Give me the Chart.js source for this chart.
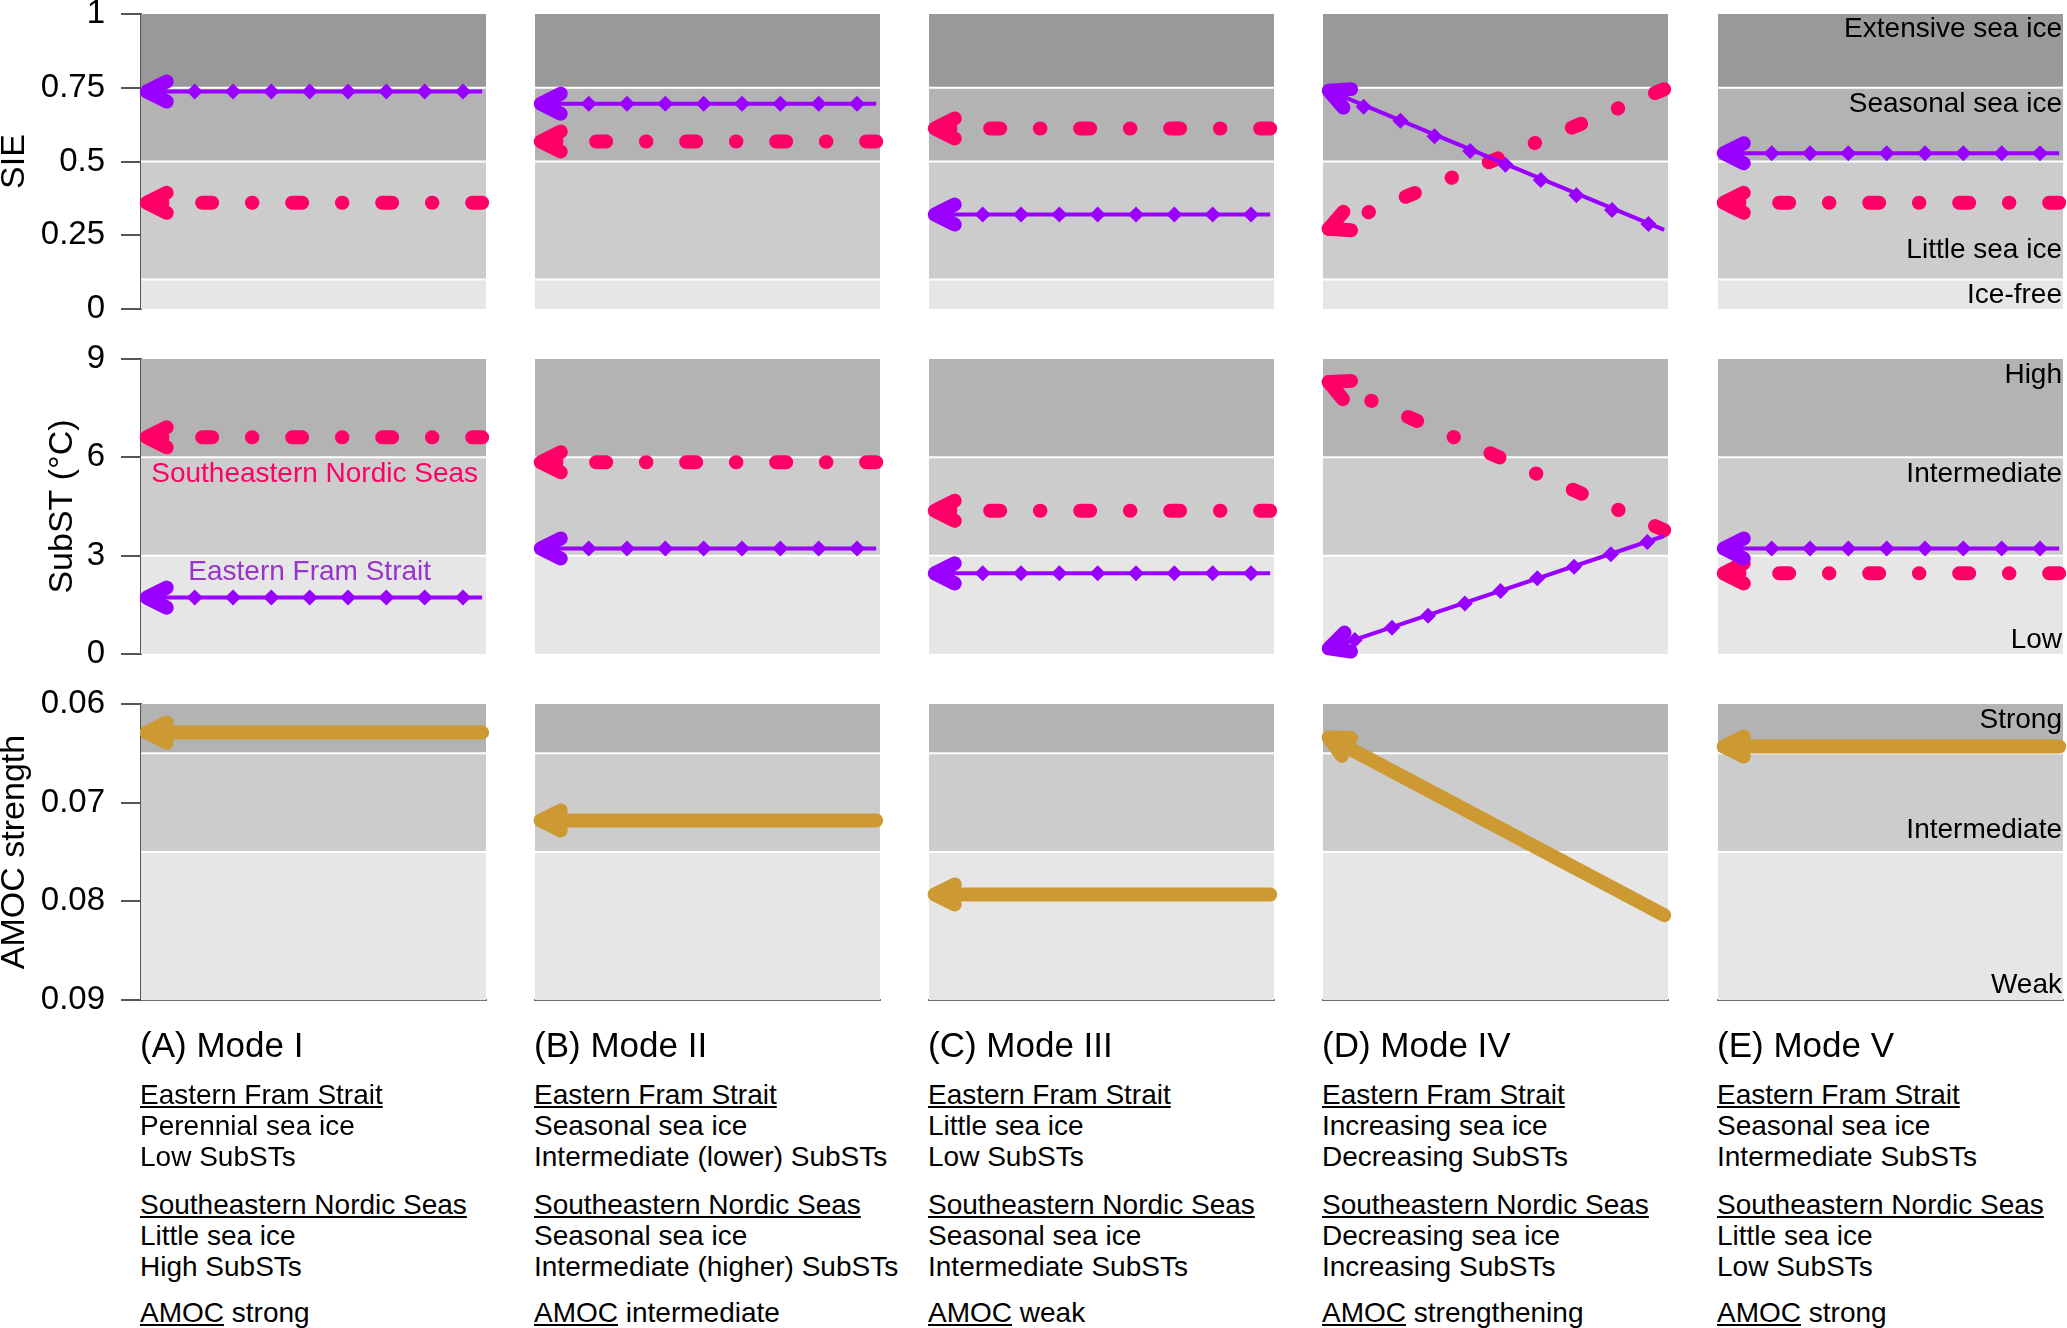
<!DOCTYPE html>
<html><head><meta charset="utf-8">
<script src="https://cdn.jsdelivr.net/npm/chart.js@4/dist/chart.umd.min.js"></script>
<style>
html,body{margin:0;padding:0;background:#fff;}
body{width:2067px;height:1328px;position:relative;overflow:hidden;font-family:'Liberation Sans',Arial,sans-serif;}
canvas{position:absolute;}
.t{position:absolute;white-space:nowrap;color:#000;}
.u{text-decoration:underline;text-decoration-thickness:2px;text-underline-offset:2px;}
</style></head><body>
<script>
// ================= DATA =================
const modeTitles = ['(A) Mode I', '(B) Mode II', '(C) Mode III', '(D) Mode IV', '(E) Mode V'];

// x extent of each panel and of the arrows (arrows are drawn from the right end to the tip)
const xMin = 0, xMax = 9;
const arrowRightX = 8.9;
const arrowTipX = 0.15;

// --- SIE row ---
const sieTicks = [0, 0.25, 0.5, 0.75, 1];
const sieTickLabels = ['0', '0.25', '0.5', '0.75', '1'];
const sieBandEdges = [0, 0.1, 0.5, 0.75, 1];
const sieBandNames = ['Ice-free', 'Little sea ice', 'Seasonal sea ice', 'Extensive sea ice'];
const sieBandLabelY = [0.019, 0.172, 0.669, 0.921];
const sieFramRight = [0.737, 0.696, 0.320, 0.268, 0.528];
const sieFramTip   = [0.737, 0.696, 0.320, 0.740, 0.528];
const sieNordicRight = [0.360, 0.568, 0.612, 0.745, 0.360];
const sieNordicTip   = [0.360, 0.568, 0.612, 0.272, 0.360];
const sieFramMarkX = [
  [1.4, 2.4, 3.4, 4.4, 5.4, 6.4, 7.4, 8.4],
  [1.4, 2.4, 3.4, 4.4, 5.4, 6.4, 7.4, 8.4],
  [1.4, 2.4, 3.4, 4.4, 5.4, 6.4, 7.4, 8.4],
  [1.06, 2.02, 2.91, 3.84, 4.76, 5.68, 6.61, 7.54, 8.49],
  [1.4, 2.4, 3.4, 4.4, 5.4, 6.4, 7.4, 8.4]
];
const sieFramMarkY = [
  [0.737, 0.737, 0.737, 0.737, 0.737, 0.737, 0.737, 0.737],
  [0.696, 0.696, 0.696, 0.696, 0.696, 0.696, 0.696, 0.696],
  [0.320, 0.320, 0.320, 0.320, 0.320, 0.320, 0.320, 0.320],
  [0.686, 0.638, 0.586, 0.536, 0.489, 0.437, 0.386, 0.336, 0.288],
  [0.528, 0.528, 0.528, 0.528, 0.528, 0.528, 0.528, 0.528]
];

// --- SubST row ---
const subTicks = [0, 3, 6, 9];
const subTickLabels = ['0', '3', '6', '9'];
const subBandEdges = [0, 3, 6, 9];
const subBandNames = ['Low', 'Intermediate', 'High'];
const subBandLabelY = [0.17, 5.26, 8.26];
const subFramRight = [1.72, 3.22, 2.46, 3.60, 3.22];
const subFramTip   = [1.72, 3.22, 2.46, 0.17, 3.22];
const subNordicRight = [6.61, 5.85, 4.37, 3.78, 2.46];
const subNordicTip   = [6.61, 5.85, 4.37, 8.30, 2.46];
const subFramMarkX = [
  [1.4, 2.4, 3.4, 4.4, 5.4, 6.4, 7.4, 8.4],
  [1.4, 2.4, 3.4, 4.4, 5.4, 6.4, 7.4, 8.4],
  [1.4, 2.4, 3.4, 4.4, 5.4, 6.4, 7.4, 8.4],
  [0.83, 1.80, 2.74, 3.70, 4.63, 5.59, 6.55, 7.51, 8.46],
  [1.4, 2.4, 3.4, 4.4, 5.4, 6.4, 7.4, 8.4]
];
const subFramMarkY = [
  [1.72, 1.72, 1.72, 1.72, 1.72, 1.72, 1.72, 1.72],
  [3.22, 3.22, 3.22, 3.22, 3.22, 3.22, 3.22, 3.22],
  [2.46, 2.46, 2.46, 2.46, 2.46, 2.46, 2.46, 2.46],
  [0.43, 0.80, 1.17, 1.54, 1.92, 2.31, 2.66, 3.04, 3.42],
  [3.22, 3.22, 3.22, 3.22, 3.22, 3.22, 3.22, 3.22]
];
const regionNames = ['Southeastern Nordic Seas', 'Eastern Fram Strait'];
const regionLabelX = [4.53, 4.40];
const regionLabelY = [5.26, 2.26];

// --- AMOC row ---
const amocTicks = [0.06, 0.07, 0.08, 0.09];
const amocTickLabels = ['0.06', '0.07', '0.08', '0.09'];
const amocBandEdges = [0.06, 0.065, 0.075, 0.09];
const amocBandNames = ['Strong', 'Intermediate', 'Weak'];
const amocBandLabelY = [0.06246, 0.07361, 0.08932];
const amocRight = [0.0629, 0.0718, 0.0793, 0.0814, 0.0643];
const amocTip   = [0.0629, 0.0718, 0.0793, 0.0634, 0.0643];

// --- descriptions ---
const framIce = ['Perennial sea ice', 'Seasonal sea ice', 'Little sea ice', 'Increasing sea ice', 'Seasonal sea ice'];
const framSubST = ['Low SubSTs', 'Intermediate (lower) SubSTs', 'Low SubSTs', 'Decreasing SubSTs', 'Intermediate SubSTs'];
const nordicIce = ['Little sea ice', 'Seasonal sea ice', 'Seasonal sea ice', 'Decreasing sea ice', 'Little sea ice'];
const nordicSubST = ['High SubSTs', 'Intermediate (higher) SubSTs', 'Intermediate SubSTs', 'Increasing SubSTs', 'Low SubSTs'];
const amocState = ['strong', 'intermediate', 'weak', 'strengthening', 'strong'];

// ================= STYLE / LAYOUT =================
const FONT = "'Liberation Sans', Arial, sans-serif";
const PURPLE = '#9900ff', PINK = '#ff0066', GOLD = '#cc9933';
const PURPLE_TEXT = '#9933cc';
const colLeft = [141, 535, 929, 1323, 1718];
const panelW = 345;
const rowTop = [14, 359, 704];
const rowH = [295, 295, 296];
const PAD = 40;
const PADX = 24;
const axisW = 141;

const rows = [
  {ticks: sieTicks, labels: sieTickLabels, min: 0, max: 1, reverse: false, title: 'SIE', titlePad: -6,
   edges: sieBandEdges, colors: ['#e6e6e6', '#cccccc', '#b3b3b3', '#999999'], names: sieBandNames, nameY: sieBandLabelY},
  {ticks: subTicks, labels: subTickLabels, min: 0, max: 9, reverse: false, title: 'SubST (°C)', titlePad: 42,
   edges: subBandEdges, colors: ['#e6e6e6', '#cccccc', '#b3b3b3'], names: subBandNames, nameY: subBandLabelY},
  {ticks: amocTicks, labels: amocTickLabels, min: 0.06, max: 0.09, reverse: true, title: 'AMOC strength', titlePad: -6,
   edges: amocBandEdges, colors: ['#b3b3b3', '#cccccc', '#e6e6e6'], names: amocBandNames, nameY: amocBandLabelY}
];

const panelPlugin = {
  id: 'panel',
  beforeDatasetsDraw(chart, args, opts) {
    const ctx = chart.ctx, a = chart.chartArea, ys = chart.scales.y, xs = chart.scales.x;
    ctx.save();
    for (let i = 0; i < opts.colors.length; i++) {
      const p1 = ys.getPixelForValue(opts.edges[i]), p2 = ys.getPixelForValue(opts.edges[i + 1]);
      ctx.fillStyle = opts.colors[i];
      ctx.fillRect(a.left, Math.min(p1, p2), a.right - a.left, Math.abs(p2 - p1));
    }
    ctx.strokeStyle = '#ffffff';
    ctx.lineWidth = 2;
    for (let i = 1; i < opts.edges.length - 1; i++) {
      const p = ys.getPixelForValue(opts.edges[i]);
      ctx.beginPath(); ctx.moveTo(a.left, p); ctx.lineTo(a.right, p); ctx.stroke();
    }
    ctx.textBaseline = 'alphabetic';
    ctx.font = '28px ' + FONT;
    for (const t of (opts.texts || [])) {
      ctx.fillStyle = t.color;
      ctx.textAlign = t.align;
      const px = t.x === 'right' ? a.right - 1 : xs.getPixelForValue(t.x);
      ctx.fillText(t.text, px, ys.getPixelForValue(t.y));
    }
    ctx.restore();
  },
  afterDatasetDraw(chart, args) {
    const ds = chart.data.datasets[args.index];
    if (!ds.arrowHead) return;
    const pts = args.meta.data, n = pts.length;
    const P = pts[n - 1], Q = pts[n - 2];
    let dx = P.x - Q.x, dy = P.y - Q.y;
    const L = Math.hypot(dx, dy); dx /= L; dy /= L;
    const back = 20, half = 10;
    const ctx = chart.ctx;
    ctx.save();
    ctx.strokeStyle = ds.borderColor;
    ctx.lineWidth = 14;
    ctx.lineCap = 'round';
    ctx.lineJoin = 'round';
    ctx.setLineDash([]);
    ctx.beginPath();
    ctx.moveTo(P.x - dx * back - dy * half, P.y - dy * back + dx * half);
    ctx.lineTo(P.x, P.y);
    ctx.lineTo(P.x - dx * back + dy * half, P.y - dy * back - dx * half);
    ctx.stroke();
    ctx.restore();
  }
};

function pts(xArr, yArr) { return xArr.map((x, i) => ({x: x, y: yArr[i]})); }

function makePanel(r, c, datasets, texts) {
  const R = rows[r];
  const cv = document.createElement('canvas');
  const left = c === 0 ? 0 : colLeft[c] - PADX;
  const w = c === 0 ? axisW + panelW + PADX : panelW + 2 * PADX;
  const h = rowH[r] + 2 * PAD;
  cv.width = w; cv.height = h;
  cv.style.left = left + 'px';
  cv.style.top = (rowTop[r] - PAD) + 'px';
  cv.style.width = w + 'px'; cv.style.height = h + 'px';
  document.body.appendChild(cv);
  const yOpts = {
    type: 'linear', min: R.min, max: R.max, reverse: R.reverse,
    display: c === 0,
    afterBuildTicks: s => { s.ticks = R.ticks.map(v => ({value: v})); },
    ticks: {
      callback: (v, i) => R.labels[i],
      font: {family: FONT, size: 33}, color: '#000', padding: 16, autoSkip: false
    },
    grid: {display: true, drawOnChartArea: false, drawTicks: true, tickLength: 20, color: '#555', lineWidth: 2},
    border: {display: true, color: '#555', width: 2},
    title: {display: true, text: R.title, color: '#000', font: {family: FONT, size: 34}, padding: {top: R.titlePad, bottom: 0}}
  };
  if (c === 0) yOpts.afterFit = s => { s.width = axisW; };
  new Chart(cv, {
    type: 'line',
    data: {datasets: datasets},
    plugins: [panelPlugin],
    options: {
      responsive: false, animation: false, devicePixelRatio: 1,
      layout: {padding: {left: c === 0 ? 0 : PADX, right: PADX, top: PAD, bottom: PAD}},
      plugins: {
        legend: {display: false}, tooltip: {enabled: false}, title: {display: false},
        panel: {edges: R.edges, colors: R.colors, texts: texts}
      },
      elements: {line: {tension: 0}},
      scales: {
        x: {
          type: 'linear', min: xMin, max: xMax,
          display: r === 2,
          ticks: {display: false},
          grid: {display: false, drawTicks: false},
          border: {display: true, color: '#707070', width: 2},
          afterFit: s => { s.height = 0; }
        },
        y: yOpts
      }
    }
  });
}

for (let c = 0; c < 5; c++) {
  const bandTexts = r => c === 4 ? rows[r].names.map((n, i) => ({text: n, x: 'right', y: rows[r].nameY[i], color: '#000', align: 'right'})) : [];
  // SIE
  makePanel(0, c, [
    {data: pts(sieFramMarkX[c], sieFramMarkY[c]), showLine: false, pointStyle: 'rectRot', pointRadius: 8, pointBorderWidth: 0, pointBackgroundColor: PURPLE, clip: false},
    {data: [{x: arrowRightX, y: sieFramRight[c]}, {x: arrowTipX, y: sieFramTip[c]}], borderColor: PURPLE, borderWidth: 4, pointRadius: 0, arrowHead: true, clip: false},
    {data: [{x: arrowRightX, y: sieNordicRight[c]}, {x: arrowTipX, y: sieNordicTip[c]}], borderColor: PINK, borderWidth: 14, borderDash: [10, 39.75, 0.5, 39.75], borderCapStyle: 'round', pointRadius: 0, arrowHead: true, clip: false}
  ], bandTexts(0));
  // SubST
  let t1 = bandTexts(1);
  if (c === 0) {
    t1 = [
      {text: regionNames[0], x: regionLabelX[0], y: regionLabelY[0], color: PINK, align: 'center'},
      {text: regionNames[1], x: regionLabelX[1], y: regionLabelY[1], color: PURPLE_TEXT, align: 'center'}
    ];
  }
  makePanel(1, c, [
    {data: pts(subFramMarkX[c], subFramMarkY[c]), showLine: false, pointStyle: 'rectRot', pointRadius: 8, pointBorderWidth: 0, pointBackgroundColor: PURPLE, clip: false},
    {data: [{x: arrowRightX, y: subFramRight[c]}, {x: arrowTipX, y: subFramTip[c]}], borderColor: PURPLE, borderWidth: 4, pointRadius: 0, arrowHead: true, clip: false},
    {data: [{x: arrowRightX, y: subNordicRight[c]}, {x: arrowTipX, y: subNordicTip[c]}], borderColor: PINK, borderWidth: 14, borderDash: [10, 39.75, 0.5, 39.75], borderCapStyle: 'round', pointRadius: 0, arrowHead: true, clip: false}
  ], t1);
  // AMOC
  makePanel(2, c, [
    {data: [{x: arrowRightX, y: amocRight[c]}, {x: arrowTipX, y: amocTip[c]}], borderColor: GOLD, borderWidth: 14, borderCapStyle: 'round', pointRadius: 0, arrowHead: true, clip: false}
  ], bandTexts(2));
}

// ================= DESCRIPTIONS =================
function addText(html, x, baseline, size, cls) {
  const d = document.createElement('div');
  d.className = 't' + (cls ? ' ' + cls : '');
  d.style.left = x + 'px';
  d.style.top = (baseline - 0.8465 * size) + 'px';
  d.style.fontSize = size + 'px';
  d.style.lineHeight = size + 'px';
  d.innerHTML = html;
  document.body.appendChild(d);
}
for (let c = 0; c < 5; c++) {
  const x = colLeft[c] - 1;
  addText(modeTitles[c], x, 1057, 35);
  addText('<span class="u">' + regionNames[1] + '</span>', x, 1105, 28);
  addText(framIce[c], x, 1136, 28);
  addText(framSubST[c], x, 1167, 28);
  addText('<span class="u">' + regionNames[0] + '</span>', x, 1215, 28);
  addText(nordicIce[c], x, 1246, 28);
  addText(nordicSubST[c], x, 1277, 28);
  addText('<span class="u">AMOC</span> ' + amocState[c], x, 1323, 28);
}
</script>
</body></html>
